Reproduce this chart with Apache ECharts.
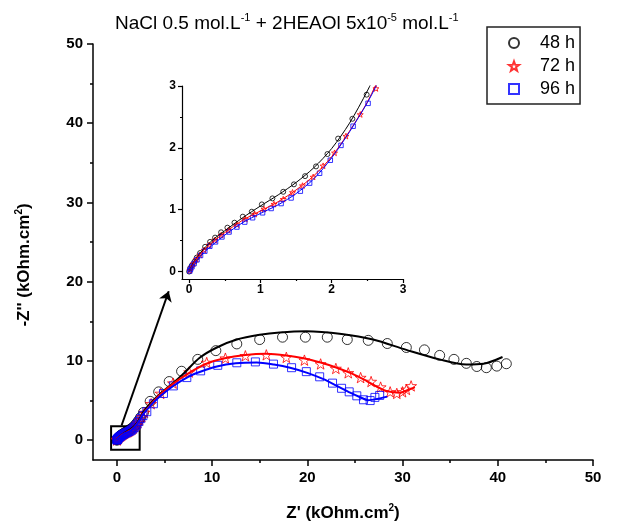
<!DOCTYPE html>
<html>
<head>
<meta charset="utf-8">
<script src="https://cdn.jsdelivr.net/npm/echarts@6/dist/echarts.min.js"></script>
<style>
  html, body { margin: 0; padding: 0; background: #fff; }
  #chart { width: 621px; height: 527px; }
</style>
</head>
<body>
<div id="chart"></div>
<script>
const font = 'Arial, "Liberation Sans", sans-serif';

// tick values
const mainTicks = [0, 10, 20, 30, 40, 50];
const mainMinor = [5, 15, 25, 35, 45];
const insetTicks = [0, 1, 2, 3];
const insetMinor = [0.5, 1.5, 2.5];

// measured points, Z' and -Z'' in kOhm.cm2
const low48 = [[0, 0], [0.014, 0.054], [0.037, 0.097], [0.075, 0.16], [0.107, 0.226], [0.154, 0.3], [0.224, 0.4],
  [0.294, 0.48], [0.364, 0.549], [0.449, 0.635], [0.537, 0.71], [0.636, 0.79], [0.753, 0.888], [0.879, 0.968],
  [1.02, 1.086], [1.168, 1.183], [1.32, 1.29], [1.47, 1.41], [1.626, 1.543], [1.78, 1.7], [1.94, 1.9],
  [2.09, 2.15], [2.29, 2.47], [2.49, 2.86]];
const high48 = [[2.8, 3.5], [3.5, 4.9], [4.4, 6.1], [5.5, 7.4], [6.8, 8.7], [8.5, 10.2], [10.4, 11.3], [12.6, 12.15],
  [15.0, 12.7], [17.4, 13.0], [19.8, 13.0], [22.1, 13.0], [24.2, 12.7], [26.4, 12.6], [28.4, 12.2], [30.4, 11.7],
  [32.3, 11.4], [33.9, 10.7], [35.4, 10.2], [36.7, 9.7], [37.8, 9.3], [38.8, 9.15], [39.9, 9.35], [40.9, 9.65]];

const low72 = [[0.01, 0.02], [0.03, 0.07], [0.06, 0.13], [0.1, 0.2], [0.15, 0.27], [0.21, 0.35], [0.28, 0.43],
  [0.36, 0.51], [0.45, 0.59], [0.55, 0.67], [0.67, 0.76], [0.79, 0.85], [0.92, 0.93], [1.05, 1.01], [1.19, 1.09],
  [1.32, 1.17], [1.45, 1.28], [1.59, 1.39], [1.74, 1.53], [1.88, 1.71], [2.04, 1.92], [2.2, 2.19], [2.4, 2.54],
  [2.62, 2.96]];
const high72 = [[2.9, 3.5], [3.6, 4.6], [4.6, 5.9], [5.9, 7.2], [7.6, 8.6], [9.44, 9.8], [11.4, 10.35], [13.5, 10.65],
  [15.7, 10.77], [17.8, 10.45], [19.7, 10.1], [21.4, 9.62], [23.0, 9.05], [24.3, 8.5], [25.6, 7.9], [26.7, 7.4],
  [27.7, 6.7], [28.7, 6.1], [29.4, 5.9], [30.0, 6.1], [30.4, 6.4], [30.9, 6.85]];

const low96 = [[0.01, 0.01], [0.02, 0.04], [0.04, 0.08], [0.07, 0.13], [0.11, 0.19], [0.16, 0.26], [0.22, 0.33],
  [0.29, 0.41], [0.37, 0.48], [0.46, 0.56], [0.56, 0.64], [0.67, 0.72], [0.78, 0.8], [0.89, 0.87], [1.03, 0.95],
  [1.15, 1.02], [1.29, 1.1], [1.43, 1.19], [1.56, 1.3], [1.69, 1.43], [1.83, 1.59], [1.98, 1.8], [2.13, 2.04],
  [2.3, 2.35], [2.51, 2.72]];
const high96 = [[2.75, 3.1], [3.15, 3.6], [3.84, 4.6], [4.9, 5.9], [5.94, 6.85], [7.35, 7.9], [8.8, 8.75], [10.6, 9.45],
  [12.6, 9.77], [14.55, 9.88], [16.45, 9.6], [18.35, 9.15], [19.9, 8.65], [21.3, 8.0], [22.65, 7.2], [23.6, 6.55],
  [24.4, 6.1], [25.2, 5.6], [25.9, 5.1], [26.6, 5.0], [27.1, 5.4], [27.6, 5.65]];

// fitted curves
const fit48 = [[0, 0], [0.05, 0.12], [0.1, 0.21], [0.2, 0.36], [0.35, 0.53], [0.5, 0.66], [0.75, 0.87], [1.0, 1.06],
  [1.25, 1.24], [1.5, 1.44], [1.75, 1.68], [2.0, 1.99], [2.25, 2.4], [2.5, 2.92], [2.75, 3.5], [3.5, 4.6], [4.5, 5.8],
  [5.8, 7.1], [7.0, 8.4], [8.7, 10.4], [10.5, 11.7], [12.6, 12.7], [15, 13.3], [17.1, 13.6], [19.9, 13.75],
  [23.6, 13.4], [26.9, 12.7], [30.4, 11.4], [33.9, 10.2], [36.7, 9.56], [38.5, 9.65], [40.5, 10.5]];
const fit72 = [[0, 0], [0.05, 0.11], [0.1, 0.2], [0.2, 0.34], [0.35, 0.5], [0.5, 0.63], [0.75, 0.83], [1.0, 0.98],
  [1.25, 1.13], [1.5, 1.32], [1.75, 1.55], [2.0, 1.86], [2.25, 2.27], [2.5, 2.74], [2.75, 3.3], [3.5, 4.4], [4.5, 5.7],
  [6, 7.2], [7.6, 8.5], [9.4, 9.65], [11.2, 10.3], [13.5, 10.75], [15.7, 10.9], [17.8, 10.7], [19.6, 10.35],
  [21.4, 9.8], [23.1, 9.15], [24.7, 8.4], [26.2, 7.5], [27.4, 6.7], [28.3, 6.2], [29.7, 6.0], [30.5, 6.3], [31.3, 6.7]];
const fit96 = [[0, 0], [0.05, 0.09], [0.1, 0.17], [0.2, 0.3], [0.35, 0.45], [0.5, 0.59], [0.75, 0.79], [1.0, 0.94],
  [1.25, 1.08], [1.5, 1.26], [1.75, 1.5], [2.0, 1.84], [2.25, 2.26], [2.5, 2.73], [2.75, 3.25], [3.5, 4.3], [4.5, 5.5],
  [6, 6.9], [7.5, 8.0], [8.7, 8.6], [10.5, 9.3], [12.5, 9.7], [14.7, 9.8], [16.5, 9.55], [18.2, 9.15], [20, 8.5],
  [21.7, 7.7], [23.2, 6.8], [24.5, 6.0], [25.5, 5.45], [26.4, 5.05], [27.3, 5.2], [28.4, 5.5]];

// zoom box and arrow, in main-axis units
const zoomBox = [[-0.6, 1.75], [2.4, -1.2]];
const arrowLine = [[0.5, 1.85], [5.45, 18.8]];

const star = 'path://M50,0L61.76,33.82L97.55,34.55L69.02,56.18L79.39,90.45L50,70L20.61,90.45L30.98,56.18L2.45,34.55L38.24,33.82Z';

const chart = echarts.init(document.getElementById('chart'), null, { renderer: 'canvas' });

const supRich = (size, sup, weight) => ({
  b: { fontSize: size, fontWeight: weight, fontFamily: font, color: '#000', lineHeight: size + 4 },
  s: { fontSize: sup, fontWeight: weight, fontFamily: font, color: '#000', lineHeight: sup + 1, verticalAlign: 'top' }
});

function valueAxis(grid, min, max, pos, ticks, len, width, label) {
  return {
    type: 'value', gridIndex: grid, min: min, max: max, position: pos,
    axisLine: { show: !!label, onZero: false, lineStyle: { color: '#000', width: width } },
    splitLine: { show: false },
    axisTick: { customValues: ticks, length: len, lineStyle: { color: '#000', width: width } },
    axisLabel: label ? Object.assign({ customValues: ticks, color: '#000', fontWeight: 'bold', fontFamily: font }, label) : { show: false }
  };
}

const xMain = valueAxis(0, -2.5, 50, 'bottom', mainTicks, 6, 1.5, { fontSize: 15, margin: 10 });
xMain.name = "{b|Z' (kOhm.cm}{s|2}{b|)}";
xMain.nameLocation = 'middle';
xMain.nameGap = 43;
xMain.nameTextStyle = { rich: supRich(17, 10, 'bold') };

const yMain = valueAxis(0, -2.5, 50, 'left', mainTicks, 6, 1.5, { fontSize: 15, margin: 10 });
yMain.name = "{b|-Z'' (kOhm.cm}{s|2}{b|)}";
yMain.nameLocation = 'middle';
yMain.nameGap = 58;
yMain.nameTextStyle = { rich: supRich(17, 10, 'bold'), padding: [0, 26, 0, 0] };

function scatter(name, data, axis, symbol, size, color) {
  return {
    name: name, type: 'scatter', xAxisIndex: axis, yAxisIndex: axis, data: data,
    symbol: symbol, symbolSize: size, symbolKeepAspect: true, clip: true,
    itemStyle: { color: 'rgba(255,255,255,0)', borderColor: color, borderWidth: 1 },
    emphasis: { disabled: true }, z: 3
  };
}

function fitLine(data, axis, color, width) {
  return {
    type: 'line', xAxisIndex: axis, yAxisIndex: axis, data: data, smooth: 0.3,
    showSymbol: false, clip: true, lineStyle: { color: color, width: width },
    emphasis: { disabled: true }, z: 4
  };
}

const main48 = scatter('48 h', low48.concat(high48), 0, 'circle', 10, '#000');
main48.markArea = {
  silent: true,
  itemStyle: { color: 'rgba(0,0,0,0)', borderColor: '#000', borderWidth: 2 },
  data: [[{ coord: zoomBox[0] }, { coord: zoomBox[1] }]]
};
main48.markLine = {
  silent: true, symbol: ['none', 'arrow'], symbolSize: 10,
  label: { show: false },
  lineStyle: { color: '#000', width: 2, type: 'solid' },
  data: [[{ coord: arrowLine[0] }, { coord: arrowLine[1] }]]
};

chart.setOption({
  animation: false,
  backgroundColor: '#fff',
  title: {
    text: '{b|NaCl 0.5 mol.L}{s|-1}{b| + 2HEAOl 5x10}{s|-5}{b| mol.L}{s|-1}',
    left: 115, top: 12, padding: 0,
    textStyle: { rich: supRich(19, 11, 'normal') }
  },
  legend: {
    data: ['48 h', '72 h', '96 h'],
    orient: 'vertical', left: 487, top: 27,
    padding: [7, 5, 6, 21], itemGap: 5,
    itemWidth: 10, itemHeight: 10,
    borderColor: '#222', borderWidth: 1.5,
    textStyle: { fontSize: 18, fontFamily: font, color: '#000', padding: [0, 0, 0, 16] }
  },
  grid: [
    { left: 93, top: 44, width: 500, height: 420 },
    { left: 182, top: 86, width: 221, height: 193 }
  ],
  xAxis: [
    xMain,
    valueAxis(0, -2.5, 50, 'bottom', mainMinor, 3, 1.5, null),
    valueAxis(1, -0.1, 3, 'bottom', insetTicks, 4, 1.2, { fontSize: 12, margin: 5 }),
    valueAxis(1, -0.1, 3, 'bottom', insetMinor, 2, 1.2, null)
  ],
  yAxis: [
    yMain,
    valueAxis(0, -2.5, 50, 'left', mainMinor, 3, 1.5, null),
    valueAxis(1, -0.12, 3, 'left', insetTicks, 4, 1.2, { fontSize: 12, margin: 6 }),
    valueAxis(1, -0.12, 3, 'left', insetMinor, 2, 1.2, null)
  ],
  series: [
    main48,
    scatter('72 h', low72.concat(high72), 0, star, 11, '#ff0000'),
    scatter('96 h', low96.concat(high96), 0, 'rect', 8, '#0000ff'),
    fitLine(fit48, 0, '#000', 2),
    fitLine(fit72, 0, '#ff0000', 2),
    fitLine(fit96, 0, '#0000ff', 2),
    scatter('48 h', low48.concat(high48), 2, 'circle', 5, '#000'),
    scatter('72 h', low72.concat(high72), 2, star, 6, '#ff0000'),
    scatter('96 h', low96.concat(high96), 2, 'rect', 4.5, '#0000ff'),
    fitLine(fit48, 2, '#000', 1),
    fitLine(fit72, 2, '#ff0000', 1),
    fitLine(fit96, 2, '#0000ff', 1)
  ]
});
</script>
</body>
</html>
